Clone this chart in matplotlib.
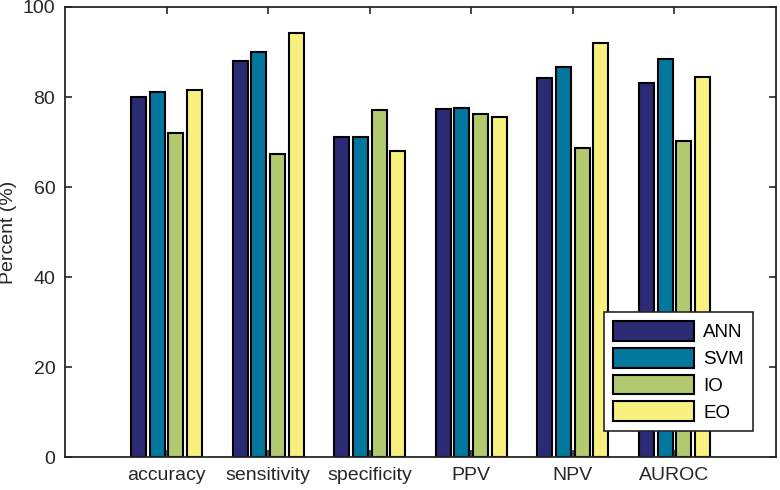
import matplotlib
matplotlib.use("Agg")
import matplotlib.pyplot as plt
import numpy as np

plt.rcParams["font.family"] = ["Liberation Sans", "DejaVu Sans"]

categories = ["accuracy", "sensitivity", "specificity", "PPV", "NPV", "AUROC"]
models = ["ANN", "SVM", "IO", "EO"]
ann = [80.1, 88.1, 71.2, 77.3, 84.3, 83.0]
svm = [81.1, 90.0, 71.2, 77.6, 86.6, 88.4]
io = [72.1, 67.3, 77.2, 76.2, 68.6, 70.3]
eo = [81.5, 94.3, 68.1, 75.5, 92.0, 84.4]
colors = ["#2b2a75", "#02779e", "#b2c96f", "#f8f07f"]

fig = plt.figure(figsize=(7.8, 4.9), dpi=100)
ax = fig.add_axes([65 / 780, 33 / 490, 711 / 780, 450 / 490])

x = np.arange(1, len(categories) + 1)
offsets = [-0.276, -0.092, 0.092, 0.276]
for vals, off, c, name in zip([ann, svm, io, eo], offsets, colors, models):
    ax.bar(x + off, vals, width=0.148, color=c, edgecolor="black",
           linewidth=1.5, label=name)

ax.set_xlim(0, 7)
ax.set_ylim(0, 100)
ax.set_xticks(x)
ax.set_xticklabels(categories)
ax.set_yticks(range(0, 101, 20))
ax.set_ylabel("Percent (%)", fontsize=14, color="#262626")
ax.yaxis.set_label_coords(-0.068, 0.5)
ax.tick_params(direction="in", top=True, right=True, labelsize=14,
               length=5, width=1.2, colors="#262626", pad=7)
for s in ax.spines.values():
    s.set_linewidth(1.3)
    s.set_color("#262626")

leg = ax.legend(loc="lower right", bbox_to_anchor=(0.968, 0.058), fontsize=13.5,
                frameon=True, fancybox=False, framealpha=1, handlelength=4.3,
                handleheight=1.25, labelspacing=0.35, borderpad=0.5,
                handletextpad=0.5, borderaxespad=0)
leg.get_frame().set_edgecolor("#262626")
leg.get_frame().set_linewidth(1.2)

fig.savefig("out.png", dpi=100)
